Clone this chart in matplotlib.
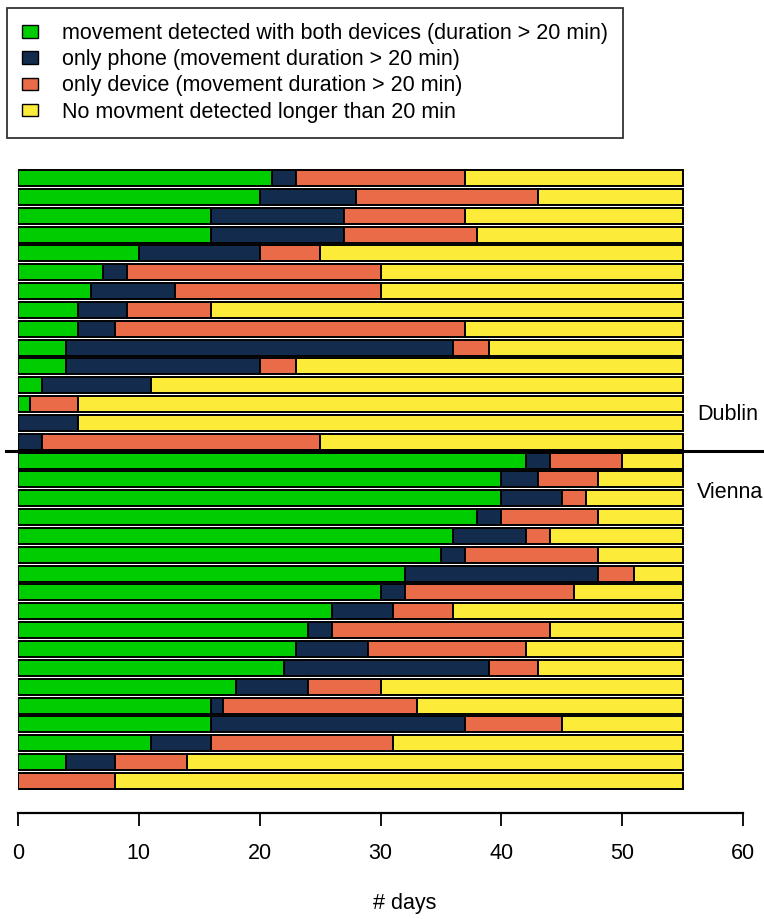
import matplotlib
matplotlib.use("Agg")
import matplotlib.pyplot as plt
import numpy as np
from matplotlib.patches import Patch

plt.rcParams['font.family'] = ['Liberation Sans', 'DejaVu Sans']

# ---- data (rows listed top to bottom) ----
dublin_both   = [21, 20, 16, 16, 10, 7, 6, 5, 5, 4, 4, 2, 1, 0, 0]
dublin_phone  = [2, 8, 11, 11, 10, 2, 7, 4, 3, 32, 16, 9, 0, 5, 2]
dublin_device = [14, 15, 10, 11, 5, 21, 17, 7, 29, 3, 3, 0, 4, 0, 23]
dublin_none   = [18, 12, 18, 17, 30, 25, 25, 39, 18, 16, 32, 44, 50, 50, 30]

vienna_both   = [42, 40, 40, 38, 36, 35, 32, 30, 26, 24, 23, 22, 18, 16, 16, 11, 4, 0]
vienna_phone  = [2, 3, 5, 2, 6, 2, 16, 2, 5, 2, 6, 17, 6, 1, 21, 5, 4, 0]
vienna_device = [6, 5, 2, 8, 2, 11, 3, 14, 5, 18, 13, 4, 6, 16, 8, 15, 6, 8]
vienna_none   = [5, 7, 8, 7, 11, 7, 4, 9, 19, 11, 13, 12, 25, 22, 10, 24, 41, 47]

labels = ["movement detected with both devices (duration > 20 min)",
          "only phone (movement duration > 20 min)",
          "only device (movement duration > 20 min)",
          "No movment detected longer than 20 min"]
colors = ['#00CD00', '#132C4D', '#E96B47', '#FDEB3A']
xticks = [0, 10, 20, 30, 40, 50, 60]
group_names = ["Dublin", "Vienna"]

FS = 15.5
W, H = 764, 919
fig = plt.figure(figsize=(W / 100, H / 100), dpi=100)

n_d = len(dublin_both)
n_v = len(vienna_both)
n = n_d + n_v
row0, pitch = 178.0, 18.84
top_px = row0 - pitch / 2
bot_px = row0 + (n - 1) * pitch + pitch / 2
x0_px, x60_px = 18.0, 743.0
ax = fig.add_axes([x0_px / W, 1 - bot_px / H, (x60_px - x0_px) / W, (bot_px - top_px) / H])

series = [dublin_both + vienna_both,
          dublin_phone + vienna_phone,
          dublin_device + vienna_device,
          dublin_none + vienna_none]
y = np.arange(n)
left = np.zeros(n)
for vals, c in zip(series, colors):
    vals = np.array(vals, dtype=float)
    ax.barh(y, vals, left=left, height=0.85, color=c, edgecolor='black', linewidth=1.4)
    left += vals

ax.set_xlim(0, 60)
ax.set_ylim(n - 0.5, -0.5)
for s in ['top', 'right', 'left']:
    ax.spines[s].set_visible(False)
ax.spines['bottom'].set_position(('outward', 16.5))
ax.spines['bottom'].set_linewidth(1.6)
ax.spines['bottom'].set_bounds(0, 60)
ax.set_yticks([])
ax.set_xticks(xticks)
ax.set_xticklabels([str(t) for t in xticks])
ax.tick_params(axis='x', length=9.5, width=1.3, pad=12, labelsize=FS)

# group divider and labels
ax.axhline(n_d - 0.5, xmin=(6 - x0_px) / (x60_px - x0_px), xmax=(764 - x0_px) / (x60_px - x0_px),
           color='black', linewidth=2.2, clip_on=False)
ax.text(56.2, n_d - 2.45, group_names[0], ha='left', va='center', fontsize=FS, clip_on=False)
ax.text(56.2, n_d + 1.7, group_names[1], ha='left', va='center', fontsize=FS, clip_on=False)

fig.text(405 / W, 1 - 909 / H, "# days", ha='center', va='baseline', fontsize=FS)

handles = [Patch(facecolor=c, edgecolor='black', linewidth=1.0) for c in colors]
leg = fig.legend(handles, labels, loc='upper left', bbox_to_anchor=(7 / W, 1 - 8 / H),
                 borderaxespad=0, frameon=True, fancybox=False, fontsize=FS,
                 handlelength=0.75, handleheight=0.5, handletextpad=1.1,
                 labelspacing=0.24, borderpad=0.7)
leg.get_frame().set_edgecolor('black')
leg.get_frame().set_linewidth(1.3)

fig.savefig("out.png", dpi=100)
